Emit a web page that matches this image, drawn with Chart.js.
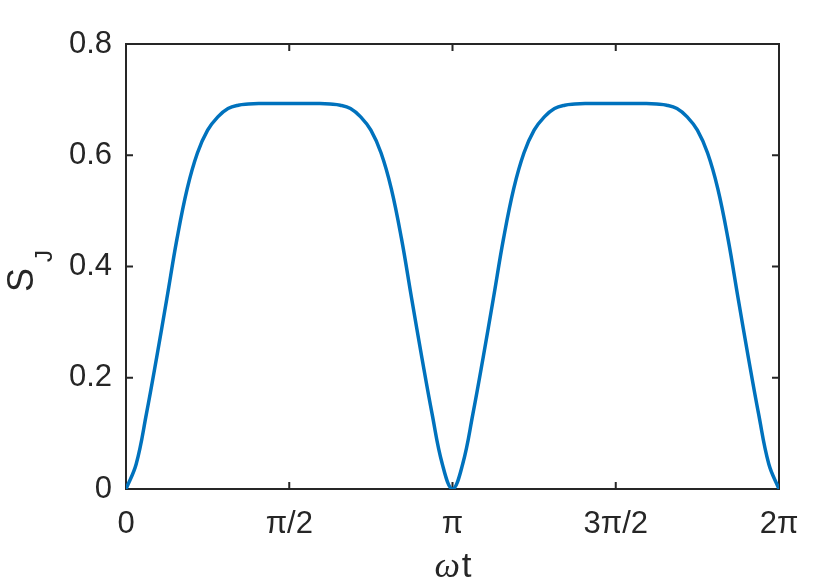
<!DOCTYPE html>
<html>
<head>
<meta charset="utf-8">
<script src="https://cdn.jsdelivr.net/npm/chart.js@4.4.1/dist/chart.umd.min.js"></script>
<style>
  html, body { margin: 0; padding: 0; background: #fff; }
</style>
</head>
<body>
<canvas id="sjChart" width="831" height="586"></canvas>
<script>
// omega*t in units of pi (step pi/32)
const phase = [
  0, 0.03125, 0.0625, 0.09375, 0.125, 0.15625, 0.1875, 0.21875,
  0.25, 0.28125, 0.3125, 0.34375, 0.375, 0.40625, 0.4375, 0.46875,
  0.5, 0.53125, 0.5625, 0.59375, 0.625, 0.65625, 0.6875, 0.71875,
  0.75, 0.78125, 0.8125, 0.84375, 0.875, 0.90625, 0.9375, 0.96875,
  1, 1.03125, 1.0625, 1.09375, 1.125, 1.15625, 1.1875, 1.21875,
  1.25, 1.28125, 1.3125, 1.34375, 1.375, 1.40625, 1.4375, 1.46875,
  1.5, 1.53125, 1.5625, 1.59375, 1.625, 1.65625, 1.6875, 1.71875,
  1.75, 1.78125, 1.8125, 1.84375, 1.875, 1.90625, 1.9375, 1.96875,
  2
];
// S_J
const entropy = [
  0, 0.045, 0.135, 0.236, 0.342, 0.450, 0.540, 0.604,
  0.645, 0.669, 0.684, 0.690, 0.692, 0.693, 0.693, 0.693,
  0.693, 0.693, 0.693, 0.693, 0.692, 0.690, 0.684, 0.669,
  0.645, 0.604, 0.540, 0.450, 0.342, 0.236, 0.135, 0.045,
  0, 0.045, 0.135, 0.236, 0.342, 0.450, 0.540, 0.604,
  0.645, 0.669, 0.684, 0.690, 0.692, 0.693, 0.693, 0.693,
  0.693, 0.693, 0.693, 0.693, 0.692, 0.690, 0.684, 0.669,
  0.645, 0.604, 0.540, 0.450, 0.342, 0.236, 0.135, 0.045,
  0
];

const xTickValues = [0, 0.5, 1, 1.5, 2];
const xTickLabels = ["0", "π/2", "π", "3π/2", "2π"];
const yTickValues = [0, 0.2, 0.4, 0.6, 0.8];
const yTickLabels = ["0", "0.2", "0.4", "0.6", "0.8"];

const ink = "#262626";
const tickFont = { family: "'Liberation Sans', Arial, sans-serif", size: 31 };

// MATLAB-like box with inward ticks on all four sides
const framePlugin = {
  id: "frame",
  beforeDatasetsDraw(chart) {
    const { ctx, chartArea: a, scales: { x, y } } = chart;
    ctx.save();
    ctx.strokeStyle = ink;
    ctx.lineWidth = 2;
    ctx.beginPath();
    xTickValues.forEach(v => {
      const px = x.getPixelForValue(v);
      ctx.moveTo(px, a.bottom); ctx.lineTo(px, a.bottom - 7);
      ctx.moveTo(px, a.top); ctx.lineTo(px, a.top + 7);
    });
    yTickValues.forEach(v => {
      const py = y.getPixelForValue(v);
      ctx.moveTo(a.left, py); ctx.lineTo(a.left + 7, py);
      ctx.moveTo(a.right, py); ctx.lineTo(a.right - 7, py);
    });
    ctx.stroke();
    ctx.strokeRect(a.left, a.top, a.right - a.left, a.bottom - a.top);
    ctx.restore();
  },
  afterDraw(chart) {
    const { ctx } = chart;
    ctx.save();
    ctx.fillStyle = ink;
    ctx.textBaseline = "alphabetic";
    ctx.textAlign = "left";
    // x label: italic omega + t
    ctx.font = "italic 36px 'Liberation Serif', 'Times New Roman', serif";
    const wOmega = ctx.measureText("ω").width;
    ctx.font = "35px 'Liberation Sans', Arial, sans-serif";
    const wT = ctx.measureText("t").width;
    const x0 = 453 - (wOmega + wT + 2) / 2;
    ctx.font = "italic 36px 'Liberation Serif', 'Times New Roman', serif";
    ctx.fillText("ω", x0, 577);
    ctx.font = "35px 'Liberation Sans', Arial, sans-serif";
    ctx.fillText("t", x0 + wOmega + 2, 577);
    // y label: S with subscript J, rotated
    ctx.translate(33, 292);
    ctx.rotate(-Math.PI / 2);
    ctx.font = "36px 'Liberation Sans', Arial, sans-serif";
    ctx.fillText("S", 0, 0);
    ctx.font = "24px 'Liberation Sans', Arial, sans-serif";
    ctx.fillText("J", 30, 19);
    ctx.restore();
  }
};

const ctx = document.getElementById("sjChart").getContext("2d");
new Chart(ctx, {
  type: "line",
  data: {
    datasets: [{
      data: phase.map((p, i) => ({ x: p, y: entropy[i] })),
      borderColor: "#0072BD",
      borderWidth: 3.5,
      pointRadius: 0,
      fill: false,
      tension: 0.4
    }]
  },
  options: {
    responsive: false,
    animation: false,
    layout: { padding: { top: 44, right: 52, left: 0, bottom: 0 } },
    plugins: { legend: { display: false }, tooltip: { enabled: false } },
    scales: {
      x: {
        type: "linear",
        min: 0,
        max: 2,
        afterBuildTicks: s => { s.ticks = xTickValues.map(v => ({ value: v })); },
        afterFit: s => { s.height = 97; },
        grid: { display: false, drawTicks: false },
        border: { display: false },
        ticks: {
          callback: (v, i) => xTickLabels[i],
          font: tickFont,
          color: ink,
          padding: 17,
          maxRotation: 0,
          autoSkip: false
        }
      },
      y: {
        type: "linear",
        min: 0,
        max: 0.8,
        afterBuildTicks: s => { s.ticks = yTickValues.map(v => ({ value: v })); },
        afterFit: s => { s.width = 126; },
        grid: { display: false, drawTicks: false },
        border: { display: false },
        ticks: {
          callback: (v, i) => yTickLabels[i],
          font: tickFont,
          color: ink,
          padding: 14,
          autoSkip: false
        }
      }
    }
  },
  plugins: [framePlugin]
});
</script>
</body>
</html>
